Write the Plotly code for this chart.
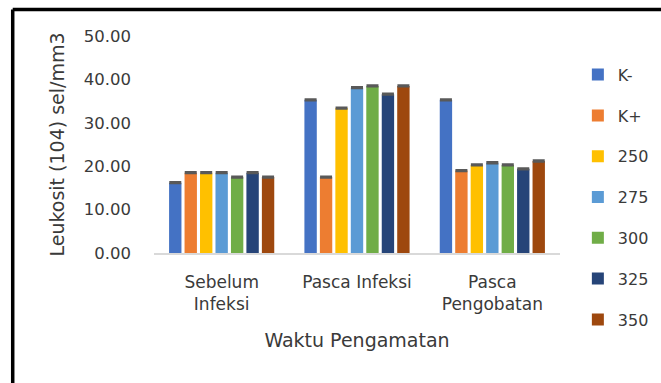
import plotly.graph_objects as go

# Observation times (x categories)
categories = ["Sebelum<br>Infeksi", "Pasca Infeksi", "Pasca<br>Pengobatan"]

# Leukocyte counts per treatment group
k_minus = [16.2, 35.3, 35.3]
k_plus = [18.5, 17.5, 19.0]
dose_250 = [18.5, 33.4, 20.3]
dose_275 = [18.5, 38.1, 20.8]
dose_300 = [17.5, 38.5, 20.3]
dose_325 = [18.5, 36.6, 19.4]
dose_350 = [17.5, 38.5, 21.2]

# Standard errors shown as small caps on top of each bar
err = [0.15, 0.15, 0.15]

series = [
    ("K-", k_minus, "#4472C4"),
    ("K+", k_plus, "#ED7D31"),
    ("250", dose_250, "#FFC000"),
    ("275", dose_275, "#5B9BD5"),
    ("300", dose_300, "#70AD47"),
    ("325", dose_325, "#264478"),
    ("350", dose_350, "#9E480E"),
]

yticks = [0, 10, 20, 30, 40, 50]
ytick_text = ["0.00", "10.00", "20.00", "30.00", "40.00", "50.00"]

FONT = "DejaVu Sans"
TEXT = "#3a3a3a"

fig = go.Figure()
for name, vals, color in series:
    fig.add_trace(go.Bar(
        name=name,
        x=categories,
        y=vals,
        legendgroup=name,
        marker=dict(color=color, line=dict(width=0)),
        error_y=dict(type="data", array=err, visible=True,
                     color="#595959", thickness=2, width=6),
    ))

fig.update_layout(
    width=661,
    height=383,
    barmode="group",
    bargap=0.2,
    bargroupgap=0.2,
    plot_bgcolor="white",
    paper_bgcolor="white",
    margin=dict(l=154, r=101, t=36, b=130, autoexpand=False),
    font=dict(family=FONT, size=16, color=TEXT),
    legend=dict(
        x=1.044, y=0.90, xanchor="left", yanchor="top",
        font=dict(family=FONT, size=16, color=TEXT),
        tracegroupgap=17,
        maxheight=400,
        bgcolor="rgba(0,0,0,0)",
    ),
    xaxis=dict(
        showline=True, linecolor="#D9D9D9", linewidth=1.5,
        ticks="", showgrid=False,
        ticklabelstandoff=13,
        tickfont=dict(family=FONT, size=17, color=TEXT),
        title=dict(text="Waktu Pengamatan", font=dict(family=FONT, size=19, color=TEXT),
                   standoff=20),
    ),
    yaxis=dict(
        range=[0, 50],
        tickvals=yticks,
        ticktext=ytick_text,
        showgrid=False, zeroline=False, showline=False,
        ticks="", ticklabelstandoff=22,
        tickfont=dict(family=FONT, size=16.5, color=TEXT),
        title=dict(text="Leukosit (104) sel/mm3", font=dict(family=FONT, size=19, color=TEXT),
                   standoff=14),
    ),
    shapes=[
        dict(type="line", xref="paper", yref="paper", x0=-0.348, x1=1.26,
             y0=1.122, y1=1.122, line=dict(color="black", width=3.5)),
        dict(type="line", xref="paper", yref="paper", x0=-0.348, x1=-0.348,
             y0=1.122, y1=-0.65, line=dict(color="black", width=3.5)),
    ],
)

fig.write_html("out.html")
